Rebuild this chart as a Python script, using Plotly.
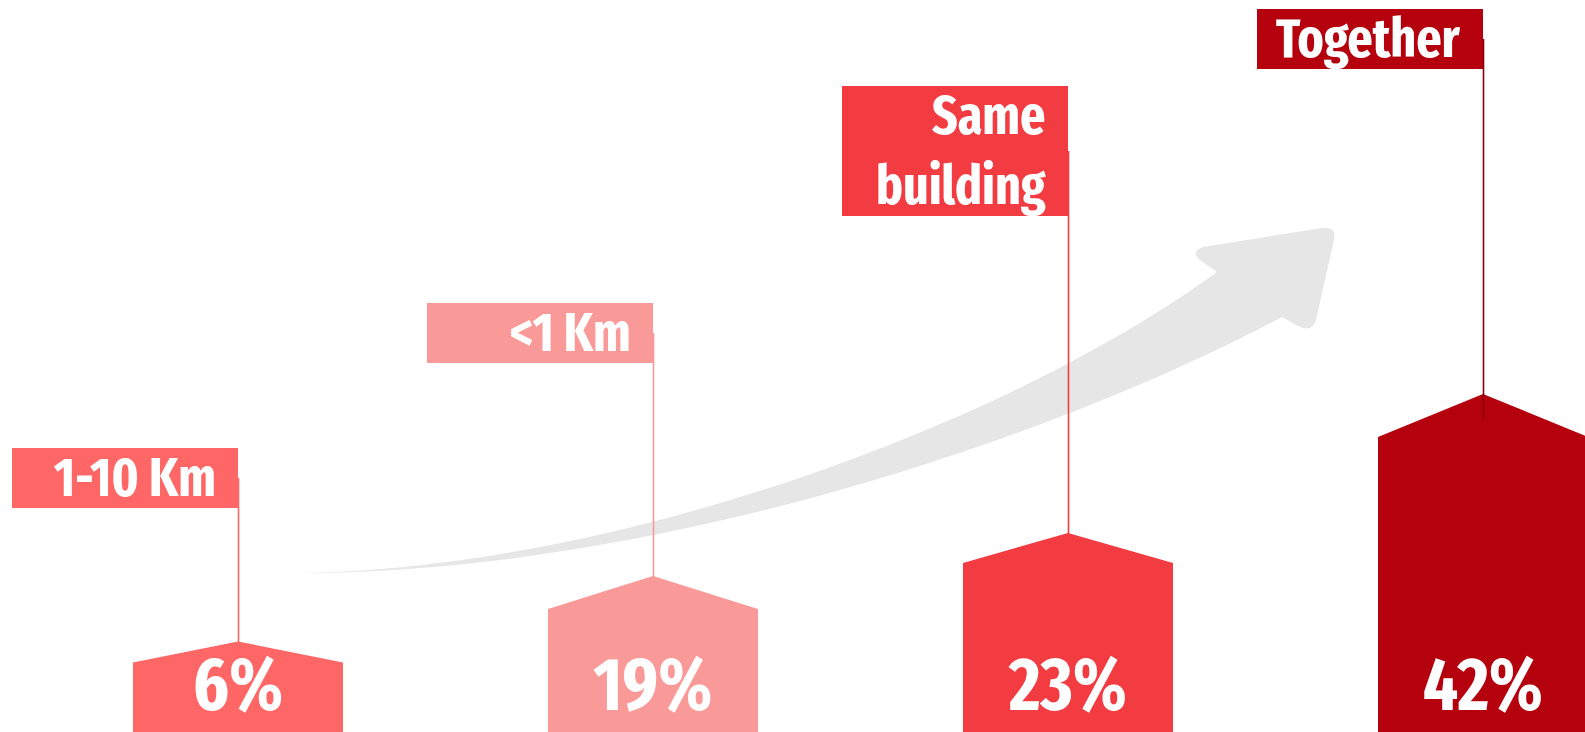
import plotly.graph_objects as go

# ---------------- data ----------------
categories = ["1-10 Km", "<1 Km", "Same<br>building", "Together"]
values = [6, 19, 23, 42]                      # percentages shown on the bars
value_labels = [f"{v}%" for v in values]
roof_top = [90.5, 156, 199, 338]              # apex height of each house-shaped bar (chart units)
wall_top = [69.5, 123, 169, 295]              # shoulder height of each bar (chart units)
flag_top = [284, 429, 646, 723]               # flag label box top (chart units)
flag_bottom = [224, 369, 516, 663]            # flag label box bottom (chart units)
bar_colors = ["#FF6666", "#F99A98", "#F23C41", "#B5000D"]
pole_colors = ["#FF6666", "#F99A98", "#F23C41", "#8A0008"]
label_height = 41                             # vertical position of the % labels

# ---------------- layout constants ----------------
W, H = 1585, 732
PX_PER_CAT = 415.0
X0 = -238.0 / PX_PER_CAT
X1 = (W - 238.0) / PX_PER_CAT
BAR_HALF = 105.0 / PX_PER_CAT
FLAG_W = 226.0 / PX_PER_CAT
TEXT_PAD = 20.0 / PX_PER_CAT
POLE_DIP = 24                                  # pole continues a little into the roof
FONT = "Fira Sans Extra Condensed, Fira Sans Condensed, DejaVu Sans Condensed, sans-serif"

fig = go.Figure()

# house-shaped bars
for i, cat in enumerate(categories):
    xs = [i - BAR_HALF, i - BAR_HALF, i, i + BAR_HALF, i + BAR_HALF, i - BAR_HALF]
    ys = [0, wall_top[i], roof_top[i], wall_top[i], 0, 0]
    fig.add_trace(go.Scatter(x=xs, y=ys, fill="toself", mode="lines",
                             fillcolor=bar_colors[i], line=dict(width=0),
                             hoverinfo="skip", showlegend=False))

# flags
for i, cat in enumerate(categories):
    xs = [i - FLAG_W, i - FLAG_W, i, i, i - FLAG_W]
    ys = [flag_bottom[i], flag_top[i], flag_top[i], flag_bottom[i], flag_bottom[i]]
    fig.add_trace(go.Scatter(x=xs, y=ys, fill="toself", mode="lines",
                             fillcolor=bar_colors[i], line=dict(width=0),
                             hoverinfo="skip", showlegend=False))

# poles
for i, cat in enumerate(categories):
    mid = (flag_top[i] + flag_bottom[i]) / 2
    fig.add_trace(go.Scatter(x=[i + 0.5 / PX_PER_CAT] * 2, y=[mid, roof_top[i] - POLE_DIP], mode="lines",
                             line=dict(color=pole_colors[i], width=1.6),
                             hoverinfo="skip", showlegend=False))

# percentage labels
fig.add_trace(go.Scatter(x=list(range(len(categories))), y=[label_height] * len(categories),
                         mode="text", text=value_labels, textposition="middle center",
                         textfont=dict(family=FONT, size=74, color="white", weight=700),
                         hoverinfo="skip", showlegend=False))

# flag texts
for i, cat in enumerate(categories):
    fig.add_annotation(x=i - TEXT_PAD, y=(flag_top[i] + flag_bottom[i]) / 2,
                       xref="x", yref="y", text=cat, showarrow=False,
                       xanchor="right", yanchor="middle", align="right",
                       font=dict(family=FONT, size=54, color="white", weight=700))

# decorative grey growth arrow (pixel outline -> paper coords)
arrow_outline = [
    ("M", [(287, 573)]),
    ("C", [(600, 573), (1000, 430), (1217, 272)]),
    ("L", [(1200, 260)]),
    ("Q", [(1190, 252), (1203, 247)]),
    ("L", [(1322, 228)]),
    ("Q", [(1337, 226), (1334, 240)]),
    ("L", [(1316, 320)]),
    ("Q", [(1312, 333), (1298, 326)]),
    ("L", [(1282, 317)]),
    ("C", [(1050, 440), (650, 575), (287, 573)]),
]


def to_paper(p):
    return f"{p[0] / W:.5f},{1 - p[1] / H:.5f}"


path = " ".join(cmd + " " + " ".join(to_paper(p) for p in pts) for cmd, pts in arrow_outline) + " Z"
fig.add_shape(type="path", path=path, xref="paper", yref="paper",
              fillcolor="#E6E6E6", line=dict(width=0), layer="below")

fig.update_layout(
    width=W, height=H,
    margin=dict(l=0, r=0, t=0, b=0),
    paper_bgcolor="white", plot_bgcolor="white",
    xaxis=dict(range=[X0, X1], visible=False, fixedrange=True),
    yaxis=dict(range=[0, H], visible=False, fixedrange=True),
    showlegend=False,
)

fig.write_html("out.html", config={"displayModeBar": False},
               post_script="document.body.style.margin='0';document.body.style.overflow='hidden';")
